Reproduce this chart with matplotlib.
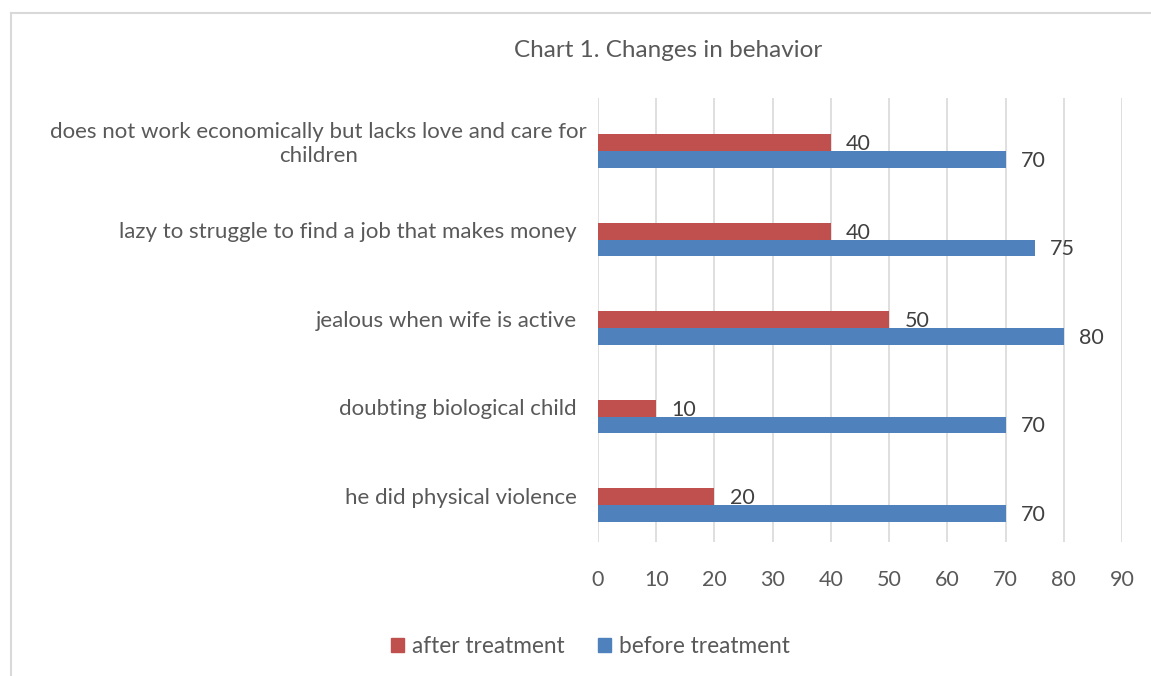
import matplotlib
matplotlib.use("Agg")
import matplotlib.pyplot as plt
from matplotlib.lines import Line2D
from matplotlib.patches import Patch
import numpy as np

# data (top to bottom as in the chart)
categories = [
    "does not work economically but lacks love and care for\nchildren",
    "lazy to struggle to find a job that makes money",
    "jealous when wife is active",
    "doubting biological child",
    "he did physical violence",
]
after_treatment = [40, 40, 50, 10, 20]
before_treatment = [70, 75, 80, 70, 70]
x_ticks = [0, 10, 20, 30, 40, 50, 60, 70, 80, 90]

red = "#c0504d"
blue = "#4f81bd"
grey_text = "#595959"
label_text = "#404040"

plt.rcParams["font.family"] = ["Lato", "DejaVu Sans"]

fig = plt.figure(figsize=(11.51, 6.76), dpi=100)
ax = fig.add_axes([0.5196, 0.1982, 0.4552, 0.6568])

y = np.arange(len(categories))
h = 0.19
ax.barh(y - h / 2, after_treatment, height=h, color=red)
ax.barh(y + h / 2, before_treatment, height=h, color=blue)

# data labels
for yi, v in zip(y, after_treatment):
    ax.annotate(str(v), (v, yi - h / 2), xytext=(11, -1), textcoords="offset points",
                ha="left", va="center", fontsize=15.5, color=label_text)
for yi, v in zip(y, before_treatment):
    ax.annotate(str(v), (v, yi + h / 2), xytext=(11, -1), textcoords="offset points",
                ha="left", va="center", fontsize=15.5, color=label_text)

# category labels, a bit above the bar pair like the original
ax.set_yticks([])
for yi, lab in zip(y, categories):
    xpos = -0.022 if "\n" in lab else -0.041
    ax.text(xpos, yi - 0.08, lab, transform=ax.get_yaxis_transform(),
            ha="right", va="center", multialignment="center",
            fontsize=16, color=grey_text, linespacing=1.3)

ax.set_ylim(4.418, -0.599)
ax.set_xlim(0, 90)
ax.set_xticks(x_ticks)
ax.tick_params(axis="x", length=0, pad=20, labelsize=15.5, labelcolor=grey_text)
ax.grid(axis="x", color="#d9d9d9", linewidth=1.2)
ax.set_axisbelow(True)
for s in ax.spines.values():
    s.set_visible(False)

fig.text(0.5803, 0.926, "Chart 1. Changes in behavior", ha="center", va="center",
         fontsize=17.5, color=grey_text)

handles = [Patch(color=red), Patch(color=blue)]
fig.legend(handles, ["after treatment", "before treatment"], loc="center",
           bbox_to_anchor=(0.513, 0.044), ncol=2, frameon=False, fontsize=16.3,
           labelcolor=grey_text, handlelength=0.55, handleheight=0.55,
           handletextpad=0.35, columnspacing=1.5)

# chart frame
fig.add_artist(Line2D([0.0092, 0.0092], [0, 0.981], color="#d9d9d9", linewidth=1.5))
fig.add_artist(Line2D([0.0092, 1], [0.981, 0.981], color="#d9d9d9", linewidth=1.5))

fig.savefig("out.png", dpi=100)
